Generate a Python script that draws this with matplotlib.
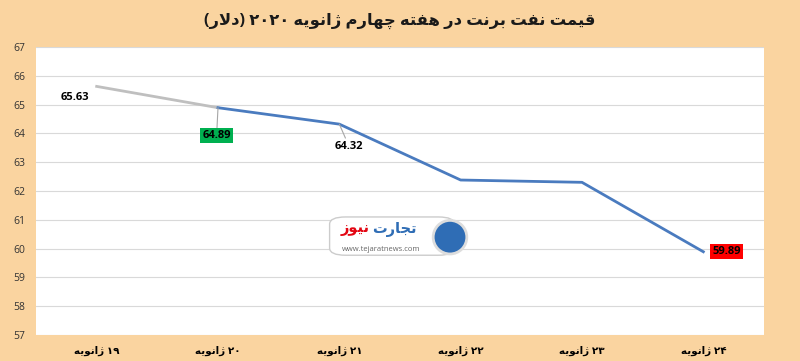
import matplotlib
matplotlib.use('Agg')
import matplotlib.pyplot as plt
from matplotlib.patches import FancyBboxPatch, Ellipse

# --- simple persian shaping (matplotlib does no arabic joining / rtl) ---
FORMS = {
    'ا': ('\uFE8D', '\uFE8E'), 'د': ('\uFEA9', '\uFEAA'), 'ر': ('\uFEAD', '\uFEAE'),
    'ز': ('\uFEAF', '\uFEB0'), 'ژ': ('\uFB8A', '\uFB8B'), 'و': ('\uFEED', '\uFEEE'),
    'ب': ('\uFE8F', '\uFE90', '\uFE91', '\uFE92'), 'ت': ('\uFE95', '\uFE96', '\uFE97', '\uFE98'),
    'ج': ('\uFE9D', '\uFE9E', '\uFE9F', '\uFEA0'), 'ف': ('\uFED1', '\uFED2', '\uFED3', '\uFED4'),
    'ق': ('\uFED5', '\uFED6', '\uFED7', '\uFED8'), 'ل': ('\uFEDD', '\uFEDE', '\uFEDF', '\uFEE0'),
    'م': ('\uFEE1', '\uFEE2', '\uFEE3', '\uFEE4'), 'ن': ('\uFEE5', '\uFEE6', '\uFEE7', '\uFEE8'),
    'ه': ('\uFEE9', '\uFEEA', '\uFEEB', '\uFEEC'), 'ی': ('\uFBFC', '\uFBFD', '\uFBFE', '\uFBFF'),
    'چ': ('\uFB7A', '\uFB7B', '\uFB7C', '\uFB7D'),
}


def shape_word(w):
    out = []
    i = 0
    while i < len(w):
        c = w[i]
        if c not in FORMS:
            out.append(c)
            i += 1
            continue
        prev = w[i - 1] if i > 0 else ''
        joins_prev = prev in FORMS and len(FORMS[prev]) == 4
        # lam-alef ligature
        if c == 'ل' and i + 1 < len(w) and w[i + 1] == 'ا':
            out.append('\uFEFC' if joins_prev else '\uFEFB')
            i += 2
            continue
        nxt = w[i + 1] if i + 1 < len(w) else ''
        joins_next = len(FORMS[c]) == 4 and nxt in FORMS
        f = FORMS[c]
        if joins_prev and joins_next:
            out.append(f[3])
        elif joins_prev:
            out.append(f[1])
        elif joins_next:
            out.append(f[2])
        else:
            out.append(f[0])
        i += 1
    return ''.join(reversed(out))


def fa(text):
    words = []
    for w in text.split(' '):
        if w and w[0] in '۰۱۲۳۴۵۶۷۸۹':
            words.append(w)
        else:
            words.append(shape_word(w))
    return ' '.join(reversed(words))


days = ['۱۹', '۲۰', '۲۱', '۲۲', '۲۳', '۲۴']
month = 'ژانویه'
prices = [65.63, 64.89, 64.32, 62.38, 62.30, 59.89]
title = 'قیمت نفت برنت در هفته چهارم ژانویه ۲۰۲۰'
unit = 'دلار'

labels = [fa(d + ' ' + month) for d in days]

bg = '#FAD4A0'
blue = '#4A7BBF'
grey = '#BFBFBF'
fam = ['Open Sans', 'DejaVu Sans']

fig = plt.figure(figsize=(8, 3.61), dpi=100, facecolor=bg)
ax = fig.add_axes([0.045, 0.072, 0.91, 0.798])
ax.set_facecolor('white')
x = list(range(len(prices)))

ax.plot(x[:2], prices[:2], color=grey, lw=2, zorder=3)
ax.plot(x[1:], prices[1:], color=blue, lw=2, zorder=3)

ax.set_xlim(-0.5, 5.5)
ax.set_ylim(57, 67)
ax.set_yticks(range(57, 68))
ax.set_xticks(x)
ax.set_xticklabels(labels, family=fam, fontsize=7.5, fontweight='bold')
ax.tick_params(axis='y', labelsize=7.5, length=0, pad=8, labelcolor='#333333')
ax.tick_params(axis='x', length=0, pad=8)
for t in ax.get_yticklabels():
    t.set_family(fam)
ax.grid(axis='y', color='#D9D9D9', lw=0.8)
ax.set_axisbelow(True)
for s in ax.spines.values():
    s.set_visible(False)

# data labels
lab_style = dict(ha='center', va='center', fontsize=8, fontweight='bold', family=fam,
                 textcoords='offset points', zorder=5)
arrow = dict(arrowstyle='-', color='#A6A6A6', lw=0.8, shrinkA=0, shrinkB=0)
ax.annotate('%.2f' % prices[0], (x[0], prices[0]), xytext=(-16, -8), **lab_style)
ax.annotate('%.2f' % prices[1], (x[1], prices[1]), xytext=(-1, -20), arrowprops=arrow,
            bbox=dict(boxstyle='square,pad=0.2', fc='#00B050', ec='none'), **lab_style)
ax.annotate('%.2f' % prices[2], (x[2], prices[2]), xytext=(7, -16), arrowprops=arrow,
            **lab_style)
ax.annotate('%.2f' % prices[5], (x[5], prices[5]), xytext=(17, 0),
            bbox=dict(boxstyle='square,pad=0.2', fc='#FF0000', ec='none'), **lab_style)

fig.text(0.5, 0.943, '(' + fa(unit) + ') ' + fa(title), ha='center', va='center',
         fontsize=11.8, fontweight='bold', family=fam, color='#1A1A1A')

# watermark logo
logo = FancyBboxPatch((0.415, 0.296), 0.15, 0.1, transform=fig.transFigure,
                      boxstyle='round,pad=0.003,rounding_size=0.02', fc='white',
                      ec='#CCCCCC', lw=1, zorder=6)
fig.patches.append(logo)
fig.patches.append(Ellipse((0.5625, 0.343), 0.042, 0.093, transform=fig.transFigure,
                           fc='#2F6DB5', ec='#DDDDDD', lw=2, zorder=7))
fig.text(0.465, 0.365, fa('تجارت'), color='#2F6DB5', fontsize=10.5, fontweight='bold',
         family=fam, ha='left', va='center', zorder=8)
fig.text(0.462, 0.365, fa('نیوز'), color='#E30613', fontsize=10.5, fontweight='bold',
         family=fam, ha='right', va='center', zorder=8)
fig.text(0.476, 0.31, 'www.tejaratnews.com', color='#666666', fontsize=5.5, family=fam,
         ha='center', va='center', zorder=8)

fig.savefig('out.png', dpi=100, facecolor=bg)
